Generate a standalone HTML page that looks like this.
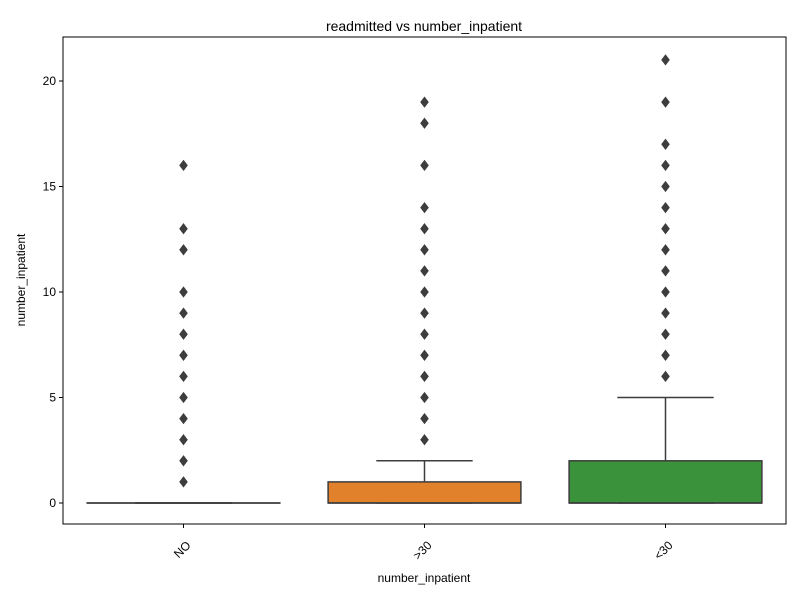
<!DOCTYPE html>
<html><head><meta charset="utf-8"><style>body{margin:0;background:#fff}svg{font-family:"Liberation Sans","DejaVu Sans",sans-serif}</style></head>
<body>
<svg id="c" width="800" height="600">
<rect x="0" y="0" width="800" height="600" fill="#fff"/>
<text x="424" y="31" text-anchor="middle" font-size="14">readmitted vs number_inpatient</text>
<text x="424" y="582" text-anchor="middle" font-size="12">number_inpatient</text>
<text transform="translate(25,280) rotate(-90)" text-anchor="middle" font-size="12">number_inpatient</text>
<g id="marks"></g>
<rect x="63" y="37" width="723" height="487" fill="none" stroke="#000" stroke-width="1"/>
</svg>
<script>
const categories = ["NO", ">30", "<30"];
const colors = ["#3274a1", "#e1812c", "#3a923a"];
const q1 = [0, 0, 0];
const median = [0, 0, 0];
const q3 = [0, 1, 2];
const whiskerLow = [0, 0, 0];
const whiskerHigh = [0, 2, 5];
const outliers = [
  [1,2,3,4,5,6,7,8,9,10,12,13,16],
  [3,4,5,6,7,8,9,10,11,12,13,14,16,18,19],
  [6,7,8,9,10,11,12,13,14,15,16,17,19,21]
];
const yTicks = [0, 5, 10, 15, 20];

const svg = document.getElementById('c');
const g = document.getElementById('marks');
const NS = 'http://www.w3.org/2000/svg';
const left = 63, right = 786;
function y(v){ return 503 - v * 21.1; }
const band = (right - left) / categories.length;
function xc(i){ return left + band * (i + 0.5); }
function mk(tag, attrs){ const e = document.createElementNS(NS, tag); for (const k in attrs) e.setAttribute(k, attrs[k]); return e; }

yTicks.forEach(t => {
  const l = mk('line', {x1: left - 4, x2: left, y1: y(t), y2: y(t), stroke: '#000'});
  
  
  svg.appendChild(l);
  const tx = mk('text', {x: left - 7, y: y(t) + 4, 'text-anchor': 'end', 'font-size': 12});
  tx.textContent = t;
  
  
  svg.appendChild(tx);
});

const bw = band * 0.8;
categories.forEach((c, i) => {
  const cx = xc(i);
  const st = '#3d3d3d';
  const wl = mk('line', {x1: cx, x2: cx, y1: y(q3[i]), y2: y(whiskerHigh[i]), stroke: st, 'stroke-width': 1.5});
  
  
  g.appendChild(wl);
  const cap = mk('line', {x1: cx - bw/4, x2: cx + bw/4, y1: y(whiskerHigh[i]), y2: y(whiskerHigh[i]), stroke: st, 'stroke-width': 1.5});
  
  
  g.appendChild(cap);
  const capL = mk('line', {x1: cx - bw/4, x2: cx + bw/4, y1: y(whiskerLow[i]), y2: y(whiskerLow[i]), stroke: st, 'stroke-width': 1.5});
  
  
  g.appendChild(capL);
  const h = Math.max(0.01, y(q1[i]) - y(q3[i]));
  const box = mk('rect', {x: cx - bw/2, y: y(q3[i]), width: bw, height: h, fill: colors[i], stroke: st, 'stroke-width': 1.5});
  
  
  g.appendChild(box);
  const md = mk('line', {x1: cx - bw/2, x2: cx + bw/2, y1: y(median[i]), y2: y(median[i]), stroke: st, 'stroke-width': 1.5});
  
  
  g.appendChild(md);
  outliers[i].forEach(v => {
    const py = y(v);
    const d = mk('polygon', {points: `${cx},${py-5} ${cx+3.8},${py} ${cx},${py+5} ${cx-3.8},${py}`, fill: st, stroke: st, 'stroke-width': 0.8});
    
    
    g.appendChild(d);
  });
  const tk = mk('line', {x1: cx, x2: cx, y1: 524, y2: 528, stroke: '#000'});
  
  
  svg.appendChild(tk);
  const tl = mk('text', {transform: `translate(${cx+8},${546}) rotate(-45)`, 'text-anchor': 'end', 'font-size': 12});
  tl.textContent = c;
  
  
  svg.appendChild(tl);
});
</script>
</body></html>
